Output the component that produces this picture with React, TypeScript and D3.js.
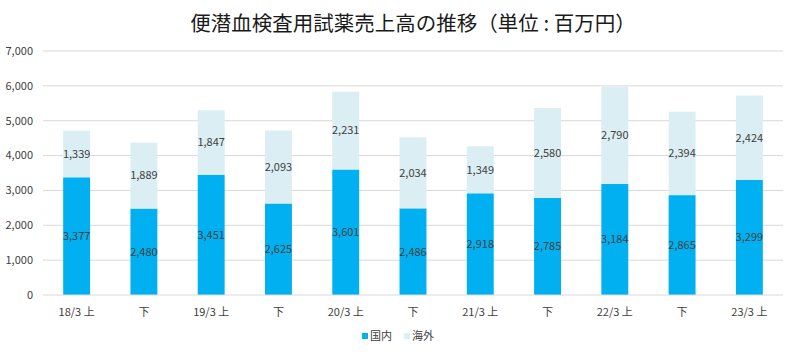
import React from "react";
import * as d3 from "d3";

const categories = ["18/3 上", "下", "19/3 上", "下", "20/3 上", "下", "21/3 上", "下", "22/3 上", "下", "23/3 上"];
const domestic = [3377, 2480, 3451, 2625, 3601, 2486, 2918, 2785, 3184, 2865, 3299];
const overseas = [1339, 1889, 1847, 2093, 2231, 2034, 1349, 2580, 2790, 2394, 2424];
const seriesNames = ["国内", "海外"];
const yTicks = [0, 1000, 2000, 3000, 4000, 5000, 6000, 7000];
const title = "便潜血検査用試薬売上高の推移（単位 : 百万円）";

const W = 796, H = 355;
const colors = ["#00B0F0", "#DAEEF3"];
const font = "'Noto Sans CJK JP', 'Noto Sans', sans-serif";

export default function App() {
  const idx = categories.map((_, i) => String(i));
  const x = d3.scaleBand().domain(idx).range([43, 783]).paddingInner(0.6).paddingOuter(0.3);
  const y = d3.scaleLinear().domain([0, 7000]).range([295, 51]);
  const fmt = d3.format(",");
  return (
    <svg width={W} height={H} style={{ position: "absolute", left: 0, top: 0, background: "#fff" }}>
      <text x={413} y={31} textAnchor="middle" fontSize={20.5} fontFamily={font} fill="#1a1a1a">{title}</text>
      {yTicks.map((t) => (
        <g key={t}>
          {t > 0 && <line x1={43} x2={783} y1={y(t)} y2={y(t)} stroke="#d9d9d9" strokeWidth={1} />}
          <text x={33} y={y(t)} dy="0.35em" textAnchor="end" fontSize={11} fontFamily={font} fill="#404040">{fmt(t)}</text>
        </g>
      ))}
      {categories.map((c, i) => {
        const bx = x(String(i))!;
        const bw = x.bandwidth();
        const d = domestic[i], o = overseas[i];
        return (
          <g key={i}>
            <rect x={bx} width={bw} y={y(d)} height={y(0) - y(d)} fill={colors[0]} />
            <rect x={bx} width={bw} y={y(d + o)} height={y(d) - y(d + o)} fill={colors[1]} />
            <text x={bx + bw / 2} y={y(d / 2)} dy="0.35em" textAnchor="middle" fontSize={11} fontFamily={font} fill="#404040">{fmt(d)}</text>
            <text x={bx + bw / 2} y={y(d + o / 2)} dy="0.35em" textAnchor="middle" fontSize={11} fontFamily={font} fill="#404040">{fmt(o)}</text>
            <text x={bx + bw / 2} y={312} dy="0.35em" textAnchor="middle" fontSize={11} fontFamily={font} fill="#404040">{c}</text>
          </g>
        );
      })}
      <line x1={43} x2={783} y1={y(0)} y2={y(0)} stroke="#d9d9d9" strokeWidth={1} />
      <g fontFamily={font} fontSize={11} fill="#404040">
        <rect x={362} y={333} width={6} height={6} fill={colors[0]} />
        <text x={370} y={336} dy="0.35em">{seriesNames[0]}</text>
        <rect x={404} y={333} width={6} height={6} fill={colors[1]} />
        <text x={412} y={336} dy="0.35em">{seriesNames[1]}</text>
      </g>
    </svg>
  );
}
